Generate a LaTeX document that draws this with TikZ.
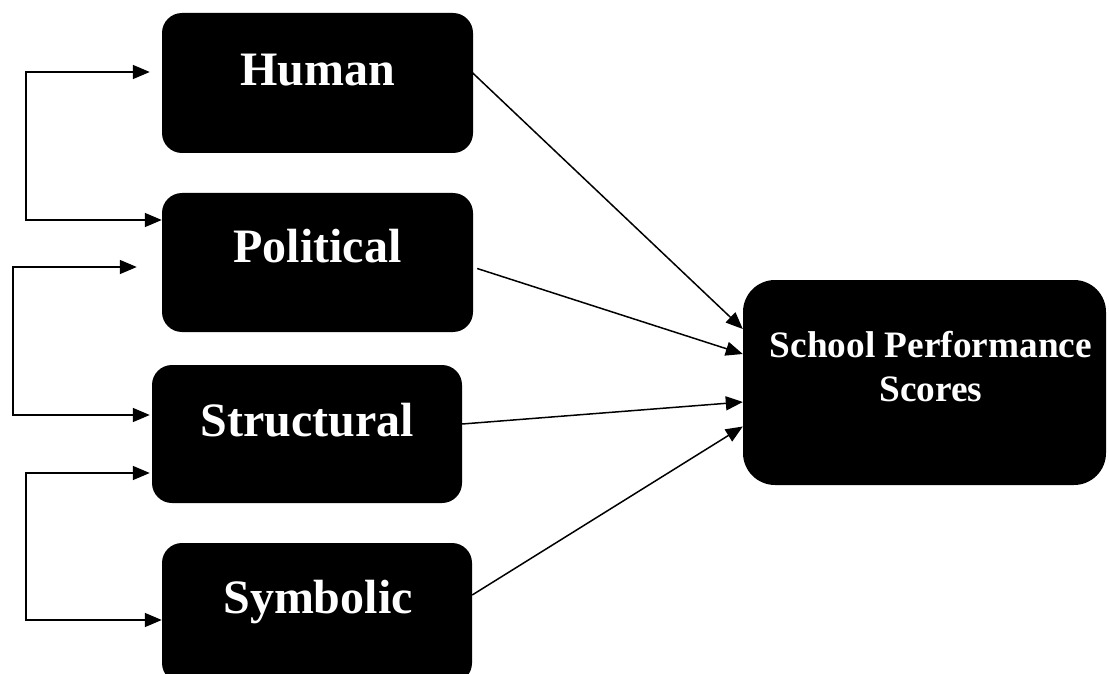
\documentclass[tikz,border=0pt]{standalone}
\usepackage{fontspec}
\newfontfamily\boxfont{Liberation Serif}
\usetikzlibrary{arrows.meta,calc}
\tikzset{
  box/.style={fill=black, rounded corners=20pt, inner sep=0pt},
  bigbox/.style={fill=black, rounded corners=32pt, inner sep=0pt},
  lbl/.style={text=white, anchor=base, inner sep=0pt, font=\boxfont\bfseries\fontsize{48}{54}\selectfont},
  slbl/.style={text=white, anchor=base, inner sep=0pt, font=\boxfont\bfseries\fontsize{37.3}{45}\selectfont},
  arr/.style={line width=1.5pt, -{Triangle[length=17pt,width=14pt]}},
  both/.style={line width=1.5pt, {Triangle[length=17pt,width=14pt]}-{Triangle[length=17pt,width=14pt]}}
}
\begin{document}
\begin{tikzpicture}[x=1pt,y=-1pt]
\useasboundingbox (0,0) rectangle (1109,674);
% boxes
\node[box, minimum width=311pt, minimum height=140pt] (human) at (317.5,83) {};
\node[box, minimum width=311pt, minimum height=139pt] (political) at (317.5,262.5) {};
\node[box, minimum width=310pt, minimum height=138pt] (structural) at (307,434) {};
\node[box, minimum width=310pt, minimum height=140pt] (symbolic) at (317,613) {};
\node[bigbox, minimum width=363pt, minimum height=205pt] (sps) at (924.5,382.5) {};
% labels
\node[lbl] (humant) at (318,86) {Human};
\node[lbl] (politicalt) at (317.5,262) {Political};
\node[lbl] (structuralt) at (307,436) {Structural};
\node[lbl] (symbolict) at (318,613) {Symbolic};
\node[slbl] (spst1) at (931,357) {School Performance};
\node[slbl] (spst2) at (931,401.7) {Scores};
% bracket coordinates
\coordinate (bxa) at (26,0);
\coordinate (bxb) at (13,0);
\coordinate (b1a) at ($(human.west)+(-12,-11)$);
\coordinate (b1b) at ($(political.west)+(0,-42.5)$);
\coordinate (b2a) at ($(political.west)+(-25,4.5)$);
\coordinate (b2b) at ($(structural.west)+(-2,-19)$);
\coordinate (b3a) at ($(structural.west)+(-2,39)$);
\coordinate (b3b) at ($(symbolic.west)+(0,7)$);
\draw[both] (b1a) -- (b1a -| bxa) |- (b1b);
\draw[both] (b2a) -- (b2a -| bxb) |- (b2b);
\draw[both] (b3a) -- (b3a -| bxa) |- (b3b);
% arrows to school performance
\draw[arr] ($(human.east)+(-1,-10.5)$) -- ($(sps.west)+(0,-53.5)$);
\draw[arr] ($(political.east)+(4,6)$) -- ($(sps.west)+(0,-28.5)$);
\draw[arr] ($(structural.east)+(0,-10)$) -- ($(sps.west)+(0,19.5)$);
\draw[arr] ($(symbolic.east)+(0,-18)$) -- ($(sps.west)+(0,44)$);
\end{tikzpicture}
\end{document}
